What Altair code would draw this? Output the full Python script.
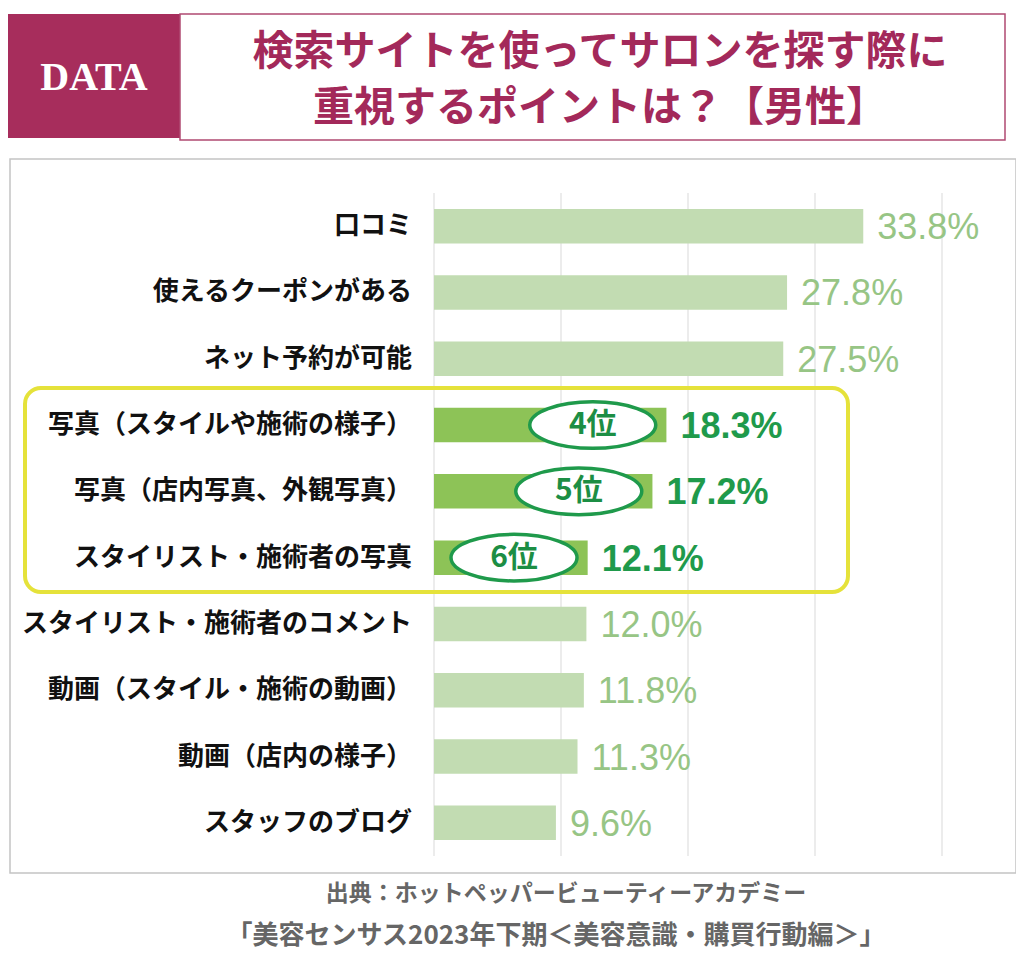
import altair as alt
import pandas as pd

categories = [
    "口コミ",
    "使えるクーポンがある",
    "ネット予約が可能",
    "写真（スタイルや施術の様子）",
    "写真（店内写真、外観写真）",
    "スタイリスト・施術者の写真",
    "スタイリスト・施術者のコメント",
    "動画（スタイル・施術の動画）",
    "動画（店内の様子）",
    "スタッフのブログ",
]
values = [33.8, 27.8, 27.5, 18.3, 17.2, 12.1, 12.0, 11.8, 11.3, 9.6]
ranks = ["", "", "", "4位", "5位", "6位", "", "", "", ""]
grid_ticks = [0, 10, 20, 30, 40]

title_lines = ["検索サイトを使ってサロンを探す際に", "重視するポイントは？【男性】"]
source_lines = ["出典：ホットペッパービューティーアカデミー",
                "「美容センサス2023年下期＜美容意識・購買行動編＞」"]

df = pd.DataFrame({
    "category": categories,
    "value": values,
    "rank": ranks,
    "label": [f"{v:.1f}%" for v in values],
    "hl": [r != "" for r in ranks],
})

LIGHT_BAR = "#c2dcb2"
DARK_BAR = "#8dc357"
LIGHT_TXT = "#97c585"
DARK_TXT = "#1f9a4b"
PURPLE = "#a72d5c"
JP = "Noto Sans CJK JP"
NUM = "'Liberation Sans Narrow', 'Liberation Sans', Arial, sans-serif"

xs = alt.Scale(domain=[0, 40], range=[426, 934], nice=False, zero=True)
ys = alt.Scale(domain=categories, range=[185, 848], paddingInner=0.48, paddingOuter=0.24)
X = lambda f: alt.X(f, scale=xs, axis=None)
Y = alt.Y("category:N", scale=ys, axis=None, sort=categories)

one = alt.Data(values=[{}])

# decorations
frame = alt.Chart(one).mark_rect(fill="white", stroke="#c4c4c4", strokeWidth=1.5).encode(
    x=alt.value(2), x2=alt.value(1008), y=alt.value(151), y2=alt.value(865))
data_box = alt.Chart(one).mark_rect(fill=PURPLE).encode(
    x=alt.value(0), x2=alt.value(172), y=alt.value(6), y2=alt.value(130))
title_box = alt.Chart(one).mark_rect(fill="white", stroke="#b04a72", strokeWidth=1.5).encode(
    x=alt.value(172), x2=alt.value(997), y=alt.value(6), y2=alt.value(132))
data_txt = alt.Chart(one).mark_text(text="DATA", font="Liberation Serif", fontWeight="bold",
                                    fontSize=40, color="white", align="center", baseline="middle").encode(
    x=alt.value(86), y=alt.value(70))


def line_text(txt, x, y, size, color, weight="bold"):
    return alt.Chart(one).mark_text(text=txt, font=JP, fontWeight=weight, fontSize=size,
                                    color=color, align="center", baseline="middle").encode(
        x=alt.value(x), y=alt.value(y))


title1 = line_text(title_lines[0], 592, 45, 41, "#a3295a")
title2 = line_text(title_lines[1], 592, 101, 41, "#a3295a")
src1 = line_text(source_lines[0], 558, 886, 23, "#666666")
src2 = line_text(source_lines[1], 548, 928, 26, "#666666")

grid = alt.Chart(pd.DataFrame({"tick": grid_ticks})).mark_rule(color="#d9d9d9", strokeWidth=1).encode(
    x=X("tick:Q"), y=alt.value(185), y2=alt.value(848))

highlight = alt.Chart(one).mark_rect(fill=None, stroke="#e5e23a", strokeWidth=4, cornerRadius=16).encode(
    x=alt.value(17), x2=alt.value(840), y=alt.value(380), y2=alt.value(584))

base = alt.Chart(df)
bars = base.mark_bar().encode(
    x=X("value:Q"), y=Y,
    color=alt.condition("datum.hl", alt.value(DARK_BAR), alt.value(LIGHT_BAR)))
cat_txt = base.mark_text(font=JP, fontWeight="bold", fontSize=26, color="#111111",
                         align="right", baseline="middle").encode(
    x=alt.value(404), y=Y, text="category:N")
val_light = base.transform_filter("!datum.hl").mark_text(
    font=NUM, fontSize=36, color=LIGHT_TXT, align="left", baseline="middle", dx=14, dy=2).encode(
    x=X("value:Q"), y=Y, text="label:N")
val_dark = base.transform_filter("datum.hl").mark_text(
    font=NUM, fontSize=36, fontWeight="bold", color=DARK_TXT, align="left", baseline="middle", dx=14, dy=2).encode(
    x=X("value:Q"), y=Y, text="label:N")

ell_base = base.transform_filter("datum.hl").transform_calculate(ex="datum.value - 5.8")
ellipse = ell_base.mark_point(
    shape="M -1 0 A 1 0.37 0 1 1 1 0 A 1 0.37 0 1 1 -1 0 Z",
    filled=True, fill="white", stroke=DARK_TXT, strokeWidth=3.5, size=15876, opacity=1).encode(
    x=X("ex:Q"), y=Y)
rank_txt = ell_base.mark_text(font=JP, fontWeight="bold", fontSize=30, color="#1c8e44",
                              align="center", baseline="middle").encode(
    x=X("ex:Q"), y=Y, text="rank:N")

chart = alt.layer(
    frame, data_box, title_box, data_txt, title1, title2, grid, highlight,
    bars, ellipse, rank_txt, cat_txt, val_light, val_dark, src1, src2
).properties(
    width=1008, height=949, padding=0,
    autosize=alt.AutoSizeParams(type="none"),
    background="white",
).configure_view(stroke=None)

chart.save("out.html", embed_options={"renderer": "svg", "actions": False})
